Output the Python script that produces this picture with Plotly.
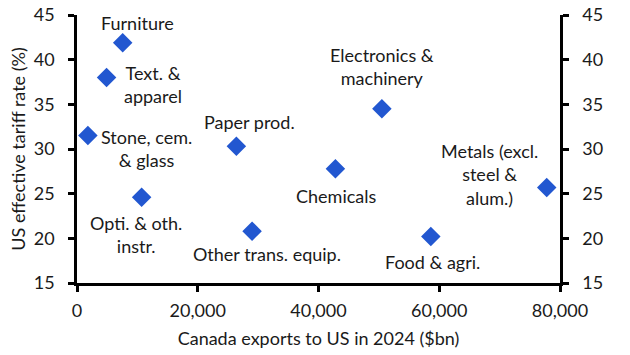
import plotly.graph_objects as go

labels = ["Furniture", "Text. &<br>apparel", "Stone, cem.<br>& glass", "Paper prod.",
          "Electronics &<br>machinery", "Chemicals", "Metals (excl.<br>steel &<br>alum.)",
          "Food & agri.", "Opti. & oth.<br>instr.", "Other trans. equip."]
exports = [7570, 4900, 1800, 26400, 50500, 42800, 77800, 58600, 10700, 29000]
tariff = [41.9, 38.0, 31.5, 30.3, 34.5, 27.8, 25.7, 20.2, 24.6, 20.8]
# label offsets in pixels (dx, dy)
offsets = [(15, 20), (46, -7), (59, -13), (13, 24), (0, 42), (1, -27), (-57, 13),
           (2, -25), (-6, -37), (15, -23)]

FONT = "Lato"
FS = 18
blue = "#2257d0"
txt = "#1a1a1a"

fig = go.Figure()
fig.add_trace(go.Scatter(x=exports, y=tariff, mode="markers",
                         marker=dict(symbol="diamond", size=15, color=blue),
                         hoverinfo="skip", showlegend=False))
fig.add_trace(go.Scatter(x=exports, y=tariff, mode="markers", yaxis="y2",
                         marker=dict(opacity=0), hoverinfo="skip", showlegend=False))

for lab, xv, yv, (dx, dy) in zip(labels, exports, tariff, offsets):
    fig.add_annotation(x=xv, y=yv, text=lab, showarrow=False, xshift=dx, yshift=dy,
                       font=dict(family=FONT, size=FS, color=txt),
                       align="center", xanchor="center", yanchor="middle")

axis_common = dict(showline=True, linewidth=2.5, linecolor="black", ticks="outside",
                   ticklen=6, tickwidth=2.5, tickcolor="black", showgrid=False,
                   zeroline=False, automargin=False,
                   tickfont=dict(family=FONT, size=FS, color=txt))

fig.update_layout(
    width=630, height=355,
    margin=dict(l=77, r=70, t=15, b=72),
    plot_bgcolor="white", paper_bgcolor="white",
    xaxis=dict(range=[0, 80000], tickvals=[0, 20000, 40000, 60000, 80000],
               tickformat=",d", ticklabelstandoff=4,
               title=dict(text="Canada exports to US in 2024 ($bn)",
                          font=dict(family=FONT, size=FS, color=txt), standoff=13),
               **axis_common),
    yaxis=dict(range=[15, 45], tickvals=[15, 20, 25, 30, 35, 40, 45], ticklabelstandoff=10,
               title=dict(text="US effective tariff rate (%)",
                          font=dict(family=FONT, size=FS, color=txt), standoff=4),
               **axis_common),
    yaxis2=dict(range=[15, 45], tickvals=[15, 20, 25, 30, 35, 40, 45], overlaying="y",
                side="right", ticklabelstandoff=10, **axis_common),
)

fig.write_html("out.html")
